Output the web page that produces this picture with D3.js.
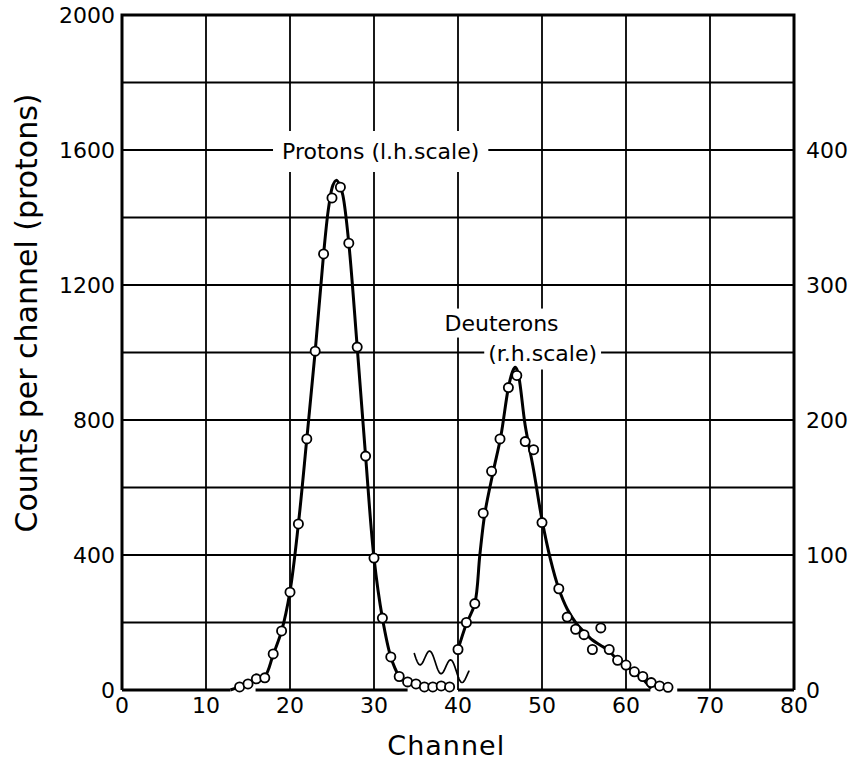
<!DOCTYPE html>
<html>
<head>
<meta charset="utf-8">
<script src="https://cdn.jsdelivr.net/npm/d3@7"></script>
<style>
body { margin: 0; background: #fff; }
text { font-family: "DejaVu Sans", sans-serif; fill: #000; }
</style>
</head>
<body>
<script>
// measured points, protons (left scale)
var protonChannels = [14, 15, 16, 17, 18, 19, 20, 21, 22, 23, 24, 25, 26, 27, 28, 29, 30, 31, 32, 33, 34, 35, 36, 37, 38, 39];
var protonCounts = [9, 18, 33, 36, 107, 175, 290, 492, 744, 1004, 1292, 1458, 1490, 1324, 1016, 693, 391, 213, 98, 40, 24, 18, 9, 9, 12, 9];

// measured points, deuterons (right scale)
var deuteronChannels = [40, 41, 42, 43, 44, 45, 46, 47, 48, 49, 50, 52, 53, 54, 55, 56, 57, 58, 59, 60, 61, 62, 63, 64, 65];
var deuteronCounts = [30, 50, 64, 131, 162, 186, 224, 233, 184, 178, 124, 75, 54, 45, 41, 30, 46, 30, 22, 18.5, 13.5, 10, 5.5, 3, 2];

// drawn curves through the points
var protonFitChannels = [12.9, 14, 15, 16, 17, 18, 19, 20, 21, 22, 23, 24, 24.6, 25.1, 25.5, 25.9, 26.3, 27, 28, 29, 30, 31, 32, 33, 33.4];
var protonFitCounts = [0, 9, 19, 30, 40, 105, 175, 292, 492, 744, 1004, 1292, 1430, 1495, 1510, 1498, 1465, 1324, 1016, 693, 391, 213, 98, 40, 28];
var deuteronFitChannels = [40, 41, 42, 42.6, 43.2, 44.2, 45.1, 46, 46.5, 46.8, 47.1, 48, 49, 50, 51, 52, 53, 54, 55, 56, 57, 58, 59, 60, 61, 62, 63];
var deuteronFitCounts = [30, 49, 64, 100, 131, 162, 188, 224, 236, 239, 236, 196, 163, 126, 97, 75, 60, 50, 43, 37, 33, 29, 22, 18, 13, 8, 1];

// ticks
var channelTicks = [0, 10, 20, 30, 40, 50, 60, 70, 80];
var leftTicks = [0, 400, 800, 1200, 1600, 2000];
var rightTicks = [0, 100, 200, 300, 400];
var gridCounts = [200, 400, 600, 800, 1000, 1200, 1400, 1600, 1800];

// labels
var protonLabel = "Protons (l.h.scale)";
var deuteronLabel = ["Deuterons", "(r.h.scale)"];

var margin = {top: 15, right: 62, bottom: 75, left: 122},
    width = 856 - margin.left - margin.right,
    height = 765 - margin.top - margin.bottom;

var x = d3.scaleLinear().domain([0, 80]).range([0, width]);
var y = d3.scaleLinear().domain([0, 2000]).range([height, 0]);
var yR = d3.scaleLinear().domain([0, 500]).range([height, 0]);

var svg = d3.select("body")
    .append("svg")
    .attr("width", 856)
    .attr("height", 765)
    .append("g")
    .attr("transform", "translate(" + margin.left + "," + margin.top + ")");

// grid
svg.selectAll(".hgrid")
    .data(gridCounts)
    .enter().append("line")
    .attr("x1", 0).attr("x2", width)
    .attr("y1", function (d) { return y(d); })
    .attr("y2", function (d) { return y(d); })
    .attr("stroke", "#000").attr("stroke-width", 1.8);

svg.selectAll(".vgrid")
    .data(channelTicks.slice(1, -1))
    .enter().append("line")
    .attr("y1", 0).attr("y2", height)
    .attr("x1", function (d) { return x(d); })
    .attr("x2", function (d) { return x(d); })
    .attr("stroke", "#000").attr("stroke-width", 1.8);

// text with a white patch behind it so grid lines break around it
function boxedText(tx, ty, str, padX, padY) {
    var g = svg.append("g");
    var t = g.append("text")
        .attr("x", tx).attr("y", ty)
        .style("font-size", "22px")
        .text(str);
    var bb = t.node().getBBox();
    g.insert("rect", "text")
        .attr("x", bb.x - padX).attr("y", bb.y - padY)
        .attr("width", bb.width + 2 * padX).attr("height", bb.height + 2 * padY)
        .attr("fill", "#fff");
}

boxedText(x(19.05), y(1600) + 9, protonLabel, 9, 8);
boxedText(x(38.4), y(1065), deuteronLabel[0], 6, 2);
boxedText(x(43.6), y(1000) + 8, deuteronLabel[1], 4, 4);

// frame: top, left, right
svg.append("path")
    .attr("d", "M0," + height + "V0H" + width + "V" + height)
    .attr("fill", "none")
    .attr("stroke", "#000").attr("stroke-width", 3);

// baseline is broken where the points sit on it
var baseSegments = [[0, 12.9], [15.9, 34], [40, 62.9], [66.1, 80]];
svg.selectAll(".base")
    .data(baseSegments)
    .enter().append("line")
    .attr("x1", function (d) { return x(d[0]); })
    .attr("x2", function (d) { return x(d[1]); })
    .attr("y1", height).attr("y2", height)
    .attr("stroke", "#000").attr("stroke-width", 3);

// fitted curves
var protonLine = d3.line()
    .x(function (d, i) { return x(protonFitChannels[i]); })
    .y(function (d) { return y(d); })
    .curve(d3.curveCatmullRom);

var deuteronLine = d3.line()
    .x(function (d, i) { return x(deuteronFitChannels[i]); })
    .y(function (d) { return yR(d); })
    .curve(d3.curveCatmullRom);

svg.append("path")
    .attr("d", protonLine(protonFitCounts))
    .attr("fill", "none").attr("stroke", "#000").attr("stroke-width", 3)
    .attr("stroke-linejoin", "round");

svg.append("path")
    .attr("d", deuteronLine(deuteronFitCounts))
    .attr("fill", "none").attr("stroke", "#000").attr("stroke-width", 3)
    .attr("stroke-linejoin", "round");

// break mark between the two peaks: a wavy stroke sloping down to the right
var p0 = [x(34.8), y(108)], p1 = [x(41.3), y(40)];
var wave = d3.range(0, 1.0001, 0.01).map(function (t) {
    var a = 9 * Math.sin(2 * Math.PI * 2.6 * t);
    return [p0[0] + t * (p1[0] - p0[0]), p0[1] + t * (p1[1] - p0[1]) + a];
});
svg.append("path")
    .attr("d", d3.line()(wave))
    .attr("fill", "none").attr("stroke", "#000").attr("stroke-width", 1.7)
    .attr("stroke-linejoin", "round").attr("stroke-linecap", "round");

// open circles
svg.selectAll(".pdot")
    .data(protonCounts)
    .enter().append("circle")
    .attr("r", 4.6)
    .attr("cx", function (d, i) { return x(protonChannels[i]); })
    .attr("cy", function (d) { return y(d); })
    .attr("fill", "#fff").attr("stroke", "#000").attr("stroke-width", 1.8);

svg.selectAll(".ddot")
    .data(deuteronCounts)
    .enter().append("circle")
    .attr("r", 4.6)
    .attr("cx", function (d, i) { return x(deuteronChannels[i]); })
    .attr("cy", function (d) { return yR(d); })
    .attr("fill", "#fff").attr("stroke", "#000").attr("stroke-width", 1.8);

// tick labels
svg.selectAll(".lt")
    .data(leftTicks)
    .enter().append("text")
    .attr("x", -7)
    .attr("y", function (d) { return y(d); })
    .attr("dy", "0.36em")
    .attr("text-anchor", "end")
    .style("font-size", "22px")
    .text(function (d) { return d; });

svg.selectAll(".rt")
    .data(rightTicks)
    .enter().append("text")
    .attr("x", width + 12)
    .attr("y", function (d) { return yR(d); })
    .attr("dy", "0.36em")
    .style("font-size", "22px")
    .text(function (d) { return d; });

svg.selectAll(".bt")
    .data(channelTicks)
    .enter().append("text")
    .attr("x", function (d) { return x(d); })
    .attr("y", height + 23)
    .attr("text-anchor", "middle")
    .style("font-size", "22px")
    .text(function (d) { return d; });

// axis titles
svg.append("text")
    .attr("x", x(38.6))
    .attr("y", height + 65)
    .attr("text-anchor", "middle")
    .style("font-size", "27px")
    .style("letter-spacing", "1px")
    .text("Channel");

svg.append("text")
    .attr("text-anchor", "middle")
    .attr("transform", "translate(" + (37 - margin.left) + "," + (313 - margin.top) + ") rotate(-90)")
    .style("font-size", "30px")
    .text("Counts per channel (protons)");
</script>
</body>
</html>
